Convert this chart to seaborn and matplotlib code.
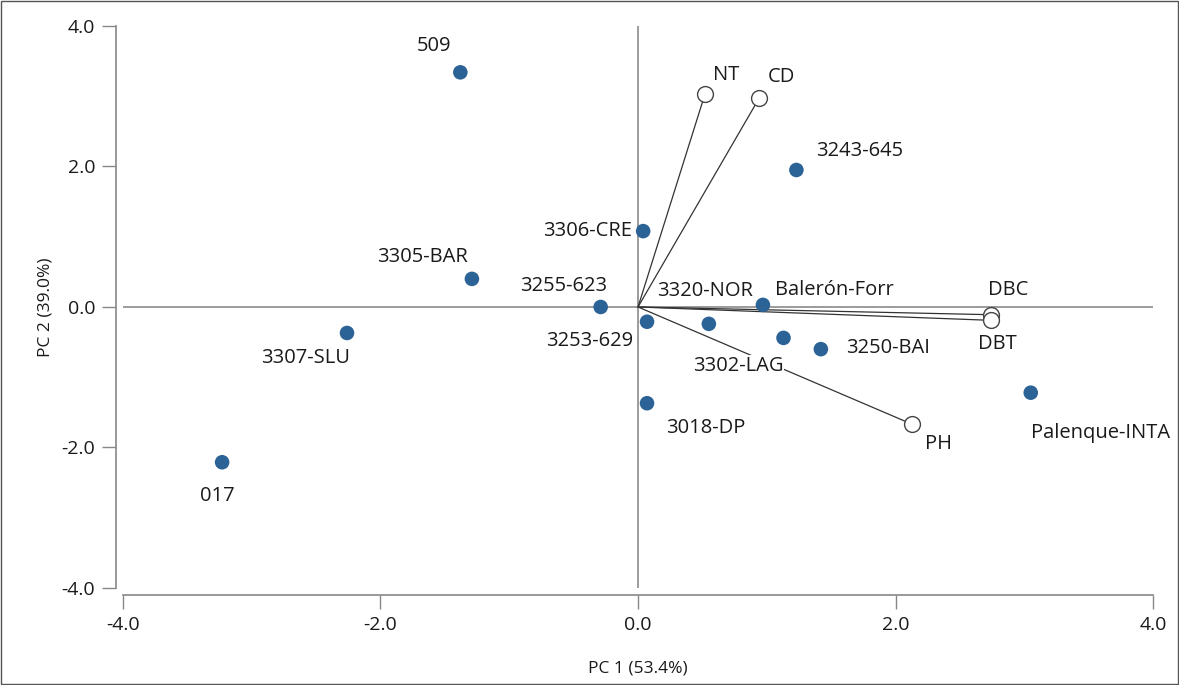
import pandas as pd
import seaborn as sns
import matplotlib.pyplot as plt

sns.set_style("ticks")
plt.rcParams["font.family"] = ["Open Sans", "DejaVu Sans"]

# genotypes (PC scores)
genotypes = ["509", "3243-645", "3306-CRE", "3305-BAR", "3255-623", "3307-SLU", "017",
             "3253-629", "3320-NOR", "Balerón-Forr", "3302-LAG", "3250-BAI", "3018-DP",
             "Palenque-INTA"]
gen_pc1 = [-1.38, 1.23, 0.04, -1.29, -0.29, -2.26, -3.23, 0.07, 0.55, 0.97, 1.13, 1.42, 0.07, 3.05]
gen_pc2 = [3.34, 1.95, 1.08, 0.40, 0.00, -0.37, -2.21, -0.21, -0.24, 0.03, -0.44, -0.60, -1.37, -1.22]

# traits (loading vectors)
traits = ["NT", "CD", "DBC", "DBT", "PH"]
trait_pc1 = [0.52, 0.94, 2.74, 2.74, 2.13]
trait_pc2 = [3.03, 2.97, -0.11, -0.19, -1.67]

# label offsets (points)
gen_offsets = [(-19, 19), (14, 14), (-8, 0), (-68, 16), (-58, 15), (-62, -18), (-16, -24),
               (-73, -14), (-37, 24), (9, 11), (-65, -20), (18, 1), (14, -18), (0, -29)]
gen_align = ["center", "left", "right", "left", "left", "left", "left",
             "left", "left", "left", "left", "left", "left", "left"]
trait_offsets = [(6, 14), (6.5, 15), (-2, 18), (-9, -17), (9, -14)]

df_gen = pd.DataFrame({"pc1": gen_pc1, "pc2": gen_pc2, "name": genotypes})
df_tr = pd.DataFrame({"pc1": trait_pc1, "pc2": trait_pc2, "name": traits})

fig = plt.figure(figsize=(11.79, 6.85), dpi=100)
ax = fig.add_axes([0.1043, 0.1416, 0.8737, 0.8205])

ax.axhline(0, color="#8a8a8a", lw=1.2, zorder=1)
ax.axvline(0, color="#8a8a8a", lw=1.2, zorder=1)

for x, y in zip(trait_pc1, trait_pc2):
    ax.plot([0, x], [0, y], color="#333333", lw=0.9, zorder=2)

sns.scatterplot(data=df_gen, x="pc1", y="pc2", ax=ax, color="#2c6396", s=110,
                edgecolor="none", zorder=4)
sns.scatterplot(data=df_tr, x="pc1", y="pc2", ax=ax, color="white", s=130,
                edgecolor="#444444", linewidth=1.0, zorder=4)

for name, x, y, off, ha in zip(genotypes, gen_pc1, gen_pc2, gen_offsets, gen_align):
    bbox = dict(facecolor="white", edgecolor="none", pad=0.5) if name == "3302-LAG" else None
    ax.annotate(name, (x, y), xytext=off, textcoords="offset points", ha=ha, va="center",
                fontsize=14.5, color="#1a1a1a", zorder=5, bbox=bbox)
for name, x, y, off in zip(traits, trait_pc1, trait_pc2, trait_offsets):
    ax.annotate(name, (x, y), xytext=off, textcoords="offset points", ha="left", va="center",
                fontsize=14.5, color="#1a1a1a", zorder=5)

ax.set_xlim(-4, 4)
ax.set_ylim(-4, 4)
ax.set_xticks([-4, -2, 0, 2, 4])
ax.set_yticks([-4, -2, 0, 2, 4])
ax.set_xticklabels(["-4.0", "-2.0", "0.0", "2.0", "4.0"])
ax.set_yticklabels(["-4.0", "-2.0", "0.0", "2.0", "4.0"])
ax.tick_params(length=10, width=1, color="#888888", labelsize=14, labelcolor="#1a1a1a", pad=5)
ax.set_xlabel("PC 1 (53.4%)", fontsize=12.5, labelpad=19, color="#1a1a1a")
ax.set_ylabel("PC 2 (39.0%)", fontsize=12.5, labelpad=6, color="#1a1a1a")
sns.despine(ax=ax, offset=5)
for sp in ["left", "bottom"]:
    ax.spines[sp].set_color("#888888")
    ax.spines[sp].set_linewidth(1.2)

fig.patches.append(plt.Rectangle((0.0008, 0.001), 0.9984, 0.997, transform=fig.transFigure,
                                 fill=False, edgecolor="#555555", lw=1.0))

plt.savefig("out.png", dpi=100)
